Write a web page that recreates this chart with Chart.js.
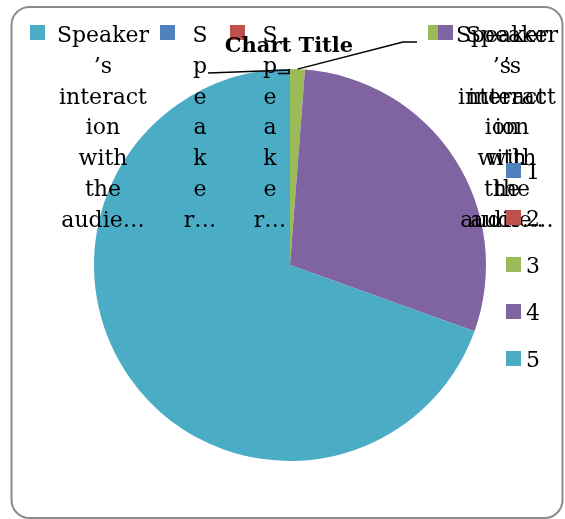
<!DOCTYPE html>
<html>
<head>
<meta charset="utf-8">
<script src="https://cdn.jsdelivr.net/npm/chart.js@4/dist/chart.umd.min.js"></script>
<style>
html,body{margin:0;padding:0;background:#fff;}
#wrap{position:relative;width:565px;height:519px;}
</style>
</head>
<body>
<div id="wrap"><canvas id="c" width="565" height="519"></canvas></div>
<script>
// ---- data ----
const categories = ['1', '2', '3', '4', '5'];
const values = [0, 0, 1, 24, 57];
const seriesName = 'Speaker’s interaction with the audience';
const chartTitle = 'Chart Title';
const wideLabelLines = ['Speaker', '’s', 'interact', 'ion', 'with', 'the', 'audie…'];
const narrowLabelLines = ['S', 'p', 'e', 'a', 'k', 'e', 'r…'];
const sliceColors = ['#4F81BD', '#C0504D', '#9BBB59', '#8064A2', '#4BACC6'];

const FONT = '"DejaVu Serif", serif';

const overlayPlugin = {
  id: 'overlay',
  beforeDraw(chart) {
    const ctx = chart.ctx;
    ctx.save();
    ctx.fillStyle = '#fff';
    ctx.fillRect(0, 0, chart.width, chart.height);
    ctx.strokeStyle = '#8c8c8c';
    ctx.lineWidth = 2;
    ctx.beginPath();
    ctx.roundRect(11.5, 7, 551, 511, 18);
    ctx.stroke();
    ctx.restore();
  },
  afterDraw(chart) {
    const ctx = chart.ctx;
    const meta = chart.getDatasetMeta(0);
    const arcs = meta.data;
    ctx.save();
    // leader lines
    const top = arcs[0];
    const cx = top.x, cy = top.y, r = top.outerRadius;
    const topX = cx, topY = cy - r;
    ctx.strokeStyle = '#000';
    ctx.lineWidth = 1.5;
    ctx.beginPath();
    ctx.moveTo(208, 73);
    ctx.lineTo(topX, topY + 1);
    ctx.moveTo(278, 73.5);
    ctx.lineTo(topX - 1, 73.5);
    ctx.lineTo(topX - 1, topY);
    ctx.stroke();
    const g = arcs[2];
    const mid = (g.startAngle + g.endAngle) / 2;
    const gx = cx + Math.cos(mid) * r, gy = cy + Math.sin(mid) * r;
    ctx.beginPath();
    ctx.moveTo(417, 42);
    ctx.lineTo(403, 42);
    ctx.lineTo(gx, gy);
    ctx.stroke();

    // data labels
    const lh = 30.8, base = 42;
    function label(idx, keyX, textCx, lines) {
      ctx.fillStyle = sliceColors[idx];
      ctx.fillRect(keyX, 25, 15, 15);
      ctx.fillStyle = '#000';
      ctx.font = '22px ' + FONT;
      ctx.textAlign = 'center';
      ctx.textBaseline = 'alphabetic';
      lines.forEach((t, i) => ctx.fillText(t, textCx, base + i * lh));
    }
    label(4, 30, 103, wideLabelLines);
    label(0, 160, 200, narrowLabelLines);
    label(1, 230, 270, narrowLabelLines);
    label(2, 428, 502, wideLabelLines);
    label(3, 438, 512, wideLabelLines);

    // title
    ctx.font = 'bold 21px ' + FONT;
    ctx.textAlign = 'center';
    ctx.fillStyle = '#000';
    ctx.fillText(chartTitle, 289, 52);

    // legend
    ctx.font = '22px ' + FONT;
    ctx.textAlign = 'left';
    categories.forEach((c, i) => {
      const y = 163 + i * 47;
      ctx.fillStyle = sliceColors[i];
      ctx.fillRect(506, y, 15, 15);
      ctx.fillStyle = '#000';
      ctx.fillText(c, 526, y + 16);
    });
    ctx.restore();
  }
};

new Chart(document.getElementById('c'), {
  type: 'pie',
  data: {
    labels: categories,
    datasets: [{
      label: seriesName,
      data: values,
      backgroundColor: sliceColors,
      borderWidth: 0
    }]
  },
  options: {
    responsive: false,
    animation: false,
    events: [],
    layout: { padding: { top: 69, bottom: 58, left: 94, right: 79 } },
    plugins: {
      legend: { display: false },
      title: { display: false },
      tooltip: { enabled: false }
    }
  },
  plugins: [overlayPlugin]
});
</script>
</body>
</html>
